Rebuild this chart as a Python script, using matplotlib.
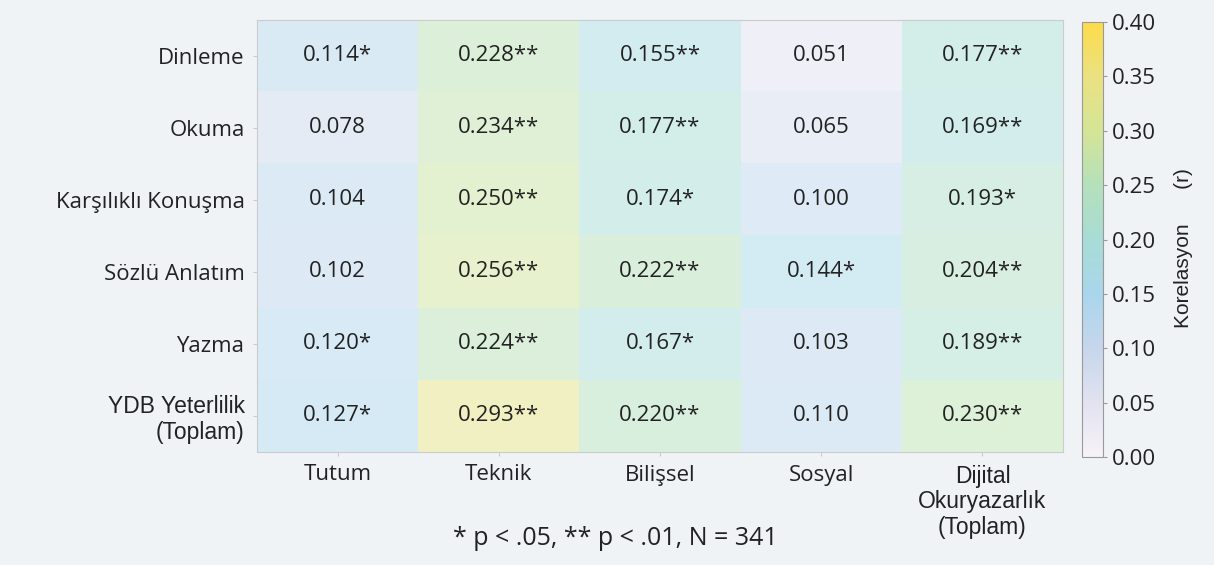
import matplotlib
matplotlib.use("Agg")
import matplotlib.pyplot as plt
import numpy as np
from matplotlib.colors import LinearSegmentedColormap, Normalize

rows = ["Dinleme", "Okuma", "Karşılıklı Konuşma", "Sözlü Anlatım", "Yazma",
        "YDB Yeterlilik\n(Toplam)"]
cols = ["Tutum", "Teknik", "Bilişsel", "Sosyal", "Dijital\nOkuryazarlık\n(Toplam)"]
r_values = np.array([
    [0.114, 0.228, 0.155, 0.051, 0.177],
    [0.078, 0.234, 0.177, 0.065, 0.169],
    [0.104, 0.250, 0.174, 0.100, 0.193],
    [0.102, 0.256, 0.222, 0.144, 0.204],
    [0.120, 0.224, 0.167, 0.103, 0.189],
    [0.127, 0.293, 0.220, 0.110, 0.230],
])
stars = [
    ["*", "**", "**", "", "**"],
    ["", "**", "**", "", "**"],
    ["", "**", "*", "", "*"],
    ["", "**", "**", "*", "**"],
    ["*", "**", "*", "", "**"],
    ["*", "**", "**", "", "**"],
]

bg = "#eff3f6"
txt = "#222222"
font = "Open Sans"
cmap = LinearSegmentedColormap.from_list(
    "kor", ["#f6f2f8", "#e2e2f0", "#c6d6ec", "#a9d6ec", "#a8dcd6",
            "#b4e0bc", "#d4e596", "#ebe182", "#fddc4a"])

fig = plt.figure(figsize=(12.14, 5.65), dpi=100, facecolor=bg)
ax = fig.add_axes([0.2117, 0.200, 0.664, 0.765])
cax = fig.add_axes([0.891, 0.191, 0.0173, 0.770])

# cells are drawn lighter and on a slightly tighter scale than the colorbar
im = ax.imshow(r_values, cmap=cmap, norm=Normalize(0, 0.35), aspect="auto", alpha=0.5)
for i in range(len(rows)):
    for j in range(len(cols)):
        ax.text(j, i, f"{r_values[i, j]:.3f}{stars[i][j]}", ha="center", va="center",
                fontsize=16, family=font, color=txt)

ax.set_xticks(range(len(cols)))
ax.set_xticklabels(cols, fontsize=16, family=font, color=txt, linespacing=1.15)
ax.set_yticks(range(len(rows)))
ax.set_yticklabels(rows, fontsize=16, family=font, color=txt, linespacing=1.15)
# the two total labels use a plainer sans
for lab in [ax.get_xticklabels()[-1], ax.get_yticklabels()[-1]]:
    lab.set_family("Liberation Sans")
    lab.set_fontsize(16.5)
ax.tick_params(length=3, color="#cccccc", pad=6)
for s in ax.spines.values():
    s.set_color("#cccccc")

sm = plt.cm.ScalarMappable(cmap=cmap, norm=Normalize(0, 0.4))
cb = fig.colorbar(sm, cax=cax)
cb.set_ticks(np.arange(0, 0.41, 0.05))
cb.ax.tick_params(labelsize=16, length=3, color="#999999", labelcolor=txt)
for t in cb.ax.get_yticklabels():
    t.set_family(font)
cb.outline.set_edgecolor("#999999")
cb.set_label("Korelasyon      (r)", fontsize=15, family="Liberation Sans", color=txt)
cb.ax.yaxis.set_label_coords(4.4, 0.48)

fig.text(0.507, 0.035, "* p < .05, ** p < .01, N = 341", ha="center", fontsize=18,
         family=font, color=txt)

fig.savefig("out.png", dpi=100, facecolor=bg)
